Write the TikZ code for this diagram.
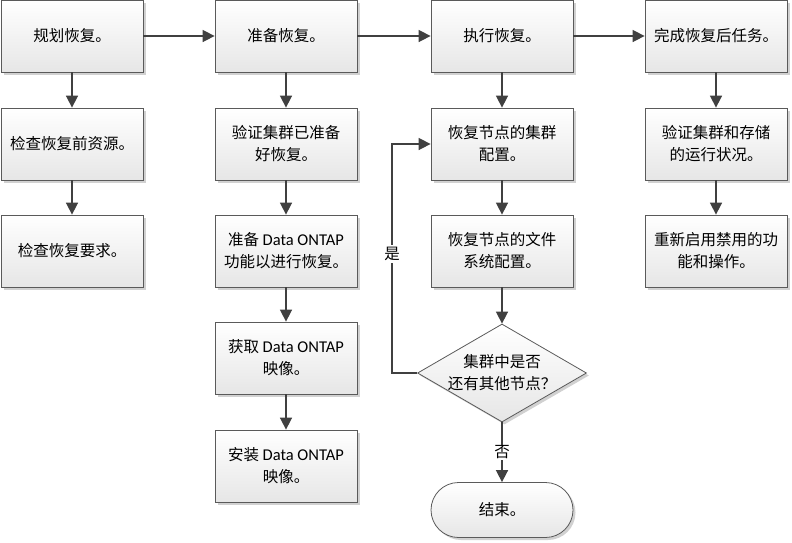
\documentclass[tikz,border=0pt]{standalone}
\usepackage{fontspec}
\setmainfont{Noto Sans CJK SC}
\newfontfamily\latf{Carlito}
\newcommand{\dont}{{\latf\fontsize{16.5}{22}\selectfont Data ONTAP}}
\usetikzlibrary{arrows.meta,shapes.geometric,shapes.misc,shadows,calc}
\definecolor{edgec}{HTML}{404040}
\definecolor{bordc}{HTML}{5A5A5A}
\definecolor{botc}{HTML}{E6E6E6}
\begin{document}
\begin{tikzpicture}[x=1pt,y=-1pt,
  every node/.style={font=\fontsize{15.5}{22}\selectfont, text=black},
  box/.style={draw=bordc, line width=0.8pt, top color=white, bottom color=botc,
    minimum width=142pt, minimum height=72pt, inner sep=0pt, align=center,
    drop shadow={shadow xshift=2.5pt, shadow yshift=-2.5pt, fill=black!30, opacity=0.6}},
  dec/.style={box, diamond, minimum width=169pt, minimum height=98pt},
  term/.style={box, rounded rectangle, minimum height=55pt},
  lbl/.style={align=center, inner sep=0pt},
  arr/.style={draw=edgec, line width=1.6pt, -{Triangle[length=12pt,width=12pt]}}
]
\useasboundingbox (0,0) rectangle (792,542);
% column 1
\node[box] (a1) at (72,36) {规划恢复。};
\node[box] (a2) at (72,144) {检查恢复前资源。};
\node[box] (a3) at (72,251) {检查恢复要求。};
% column 2
\node[box] (b1) at (286,36) {准备恢复。};
\node[box] (b2) at (286,144) {验证集群已准备\\好恢复。};
\node[box] (b3) at (286,251) {准备 \dont\\功能以进行恢复。};
\node[box] (b4) at (286,358) {获取 \dont\\映像。};
\node[box] (b5) at (286,466) {安装 \dont\\映像。};
% column 3
\node[box] (c1) at (502,36) {执行恢复。};
\node[box] (c2) at (502,144) {恢复节点的集群\\配置。};
\node[box] (c3) at (502,251) {恢复节点的文件\\系统配置。};
\node[dec] (d) at (502,373) {};
\node[lbl] (dt) at (d.center) {集群中是否\\还有其他节点？};
\node[term] (e) at (502,510) {结束。};
% column 4
\node[box] (f1) at (716,36) {完成恢复后任务。};
\node[box] (f2) at (716,144) {验证集群和存储\\的运行状况。};
\node[box] (f3) at (716,251) {重新启用禁用的功\\能和操作。};
% connectors
\draw[arr] (a1) -- (a2);
\draw[arr] (a2) -- (a3);
\draw[arr] (a1) -- (b1);
\draw[arr] (b1) -- (b2);
\draw[arr] (b2) -- (b3);
\draw[arr] (b3) -- (b4);
\draw[arr] (b4) -- (b5);
\draw[arr] (b1) -- (c1);
\draw[arr] (c1) -- (c2);
\draw[arr] (c2) -- (c3);
\draw[arr] (c3) -- (d);
\draw[arr] (d) -- node[fill=white, inner sep=1pt, pos=0.5] {否} (e);
\draw[arr] (d.west) -- ++(-25,0) |- node[pos=0.26, fill=white, inner sep=2pt] {是} (c2.west);
\draw[arr] (c1) -- (f1);
\draw[arr] (f1) -- (f2);
\draw[arr] (f2) -- (f3);
\end{tikzpicture}
\end{document}
